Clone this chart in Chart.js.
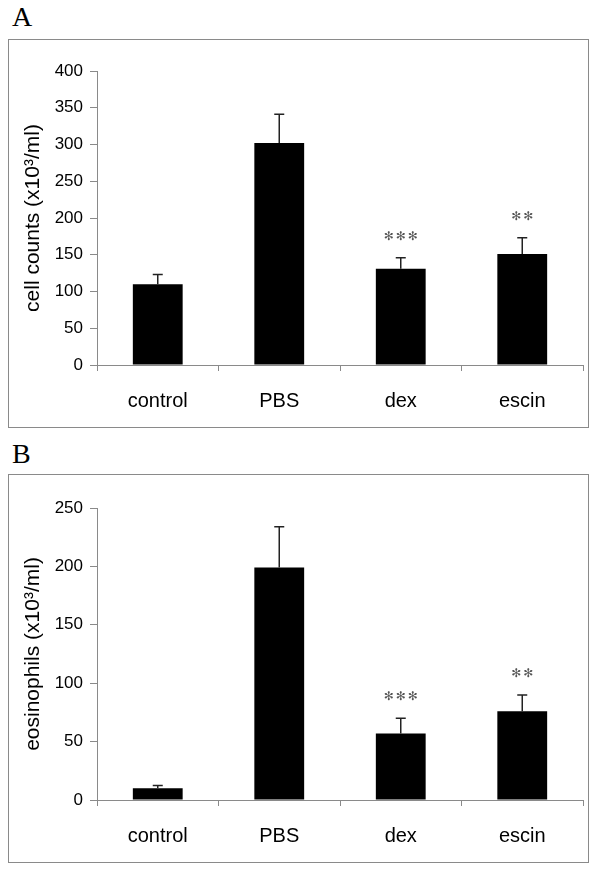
<!DOCTYPE html>
<html>
<head>
<meta charset="utf-8">
<script src="https://cdn.jsdelivr.net/npm/chart.js@4.4.1/dist/chart.umd.min.js"></script>
<style>
    body { margin: 0; background: #fff; width: 600px; height: 873px; position: relative; }
    .letter { position: absolute; left: 12px; font: 28px 'Liberation Serif', 'Times New Roman', serif; line-height: 1; }
    .frame { position: absolute; left: 8px; width: 579px; height: 387px; border: 1px solid #8a8a8a; }
    canvas { display: block; }
</style>
</head>
<body>
<div class="letter" style="top: 3px">A</div>
<div class="frame" style="top: 39px"><canvas id="chartA" width="579" height="387"></canvas></div>
<div class="letter" style="top: 440px">B</div>
<div class="frame" style="top: 474px"><canvas id="chartB" width="579" height="387"></canvas></div>
<script>
const categories = ['control', 'PBS', 'dex', 'escin']

// panel A: total cells
const cellCounts = [110, 302, 131, 151]
const cellCountsErr = [13, 39, 15, 22]

// panel B: eosinophils
const eosinophils = [10, 199, 57, 76]
const eosinophilsErr = [2.5, 35, 13, 14]

// number of stars above each bar
const significance = [0, 0, 3, 2]

const axisGray = '#8a8a8a'
const sans = "'Liberation Sans', Arial, sans-serif"

// error bars (upper half only) and significance stars
const errorBarPlugin = {
    id: 'errorBarPlugin',
    afterDatasetsDraw(chart, args, opts) {
        const ctx = chart.ctx
        const yScale = chart.scales.y
        const meta = chart.getDatasetMeta(0)
        const values = chart.data.datasets[0].data
        ctx.save()
        ctx.strokeStyle = '#222'
        ctx.lineWidth = 1.5
        meta.data.forEach((bar, i) => {
            const top = yScale.getPixelForValue(values[i] + opts.errors[i])
            ctx.beginPath()
            ctx.moveTo(bar.x, bar.y)
            ctx.lineTo(bar.x, top)
            ctx.moveTo(bar.x - 5, top)
            ctx.lineTo(bar.x + 5, top)
            ctx.stroke()
            const n = opts.stars[i]
            if (n) {
                ctx.fillStyle = '#555'
                ctx.font = "12px 'DejaVu Sans', sans-serif"
                ctx.textAlign = 'center'
                ctx.textBaseline = 'middle'
                for (let k = 0; k < n; k++) {
                    const sx = bar.x + (k - (n - 1) / 2) * 12
                    ctx.fillText('✻', sx, top - 21)
                }
            }
        })
        ctx.restore()
    },
}

function makeChart(id, values, errors, max, step, title, topPad) {
    return new Chart(document.getElementById(id), {
        type: 'bar',
        data: {
            labels: categories,
            datasets: [
                {
                    data: values,
                    backgroundColor: '#000',
                    borderWidth: 0,
                    barPercentage: 0.41,
                    categoryPercentage: 1,
                },
            ],
        },
        plugins: [errorBarPlugin],
        options: {
            responsive: false,
            animation: false,
            layout: { padding: { top: topPad, right: 5, left: 0, bottom: 0 } },
            plugins: {
                legend: false,
                tooltip: false,
                errorBarPlugin: { errors: errors, stars: significance },
            },
            scales: {
                x: {
                    grid: {
                        drawOnChartArea: false,
                        drawTicks: true,
                        tickLength: 6,
                        color: axisGray,
                    },
                    border: { color: axisGray, width: 1 },
                    ticks: {
                        color: '#000',
                        font: { family: sans, size: 20 },
                        padding: 18,
                    },
                    afterFit: (scale) => {
                        scale.height = 62
                    },
                },
                y: {
                    min: 0,
                    max: max,
                    grid: {
                        drawOnChartArea: false,
                        drawTicks: true,
                        tickLength: 7,
                        color: axisGray,
                    },
                    border: { color: axisGray, width: 1 },
                    ticks: {
                        stepSize: step,
                        color: '#000',
                        font: { family: sans, size: 17 },
                        padding: 7,
                    },
                    title: {
                        display: true,
                        text: title,
                        color: '#000',
                        font: { family: sans, size: 21 },
                        padding: { top: 12, bottom: 0 },
                    },
                    afterFit: (scale) => {
                        scale.width = 88
                    },
                },
            },
        },
    })
}

makeChart('chartA', cellCounts, cellCountsErr, 400, 50, 'cell counts (x10³/ml)', 31)
makeChart('chartB', eosinophils, eosinophilsErr, 250, 50, 'eosinophils (x10³/ml)', 33)
</script>
</body>
</html>
